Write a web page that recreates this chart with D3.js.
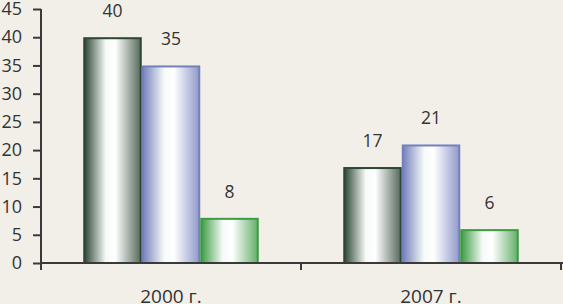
<!DOCTYPE html>
<html>
<head>
<meta charset="utf-8">
<script src="https://cdn.jsdelivr.net/npm/d3@7"></script>
<style>
  body { margin: 0; background: #f2efe9; }
  svg { display: block; }
  text { font-family: "Open Sans", sans-serif; fill: #333; }
</style>
</head>
<body>
<div id="chart"></div>
<script>
var categories = ["2000 г.", "2007 г."];
var seriesNames = ["s1", "s2", "s3"];
var values = [
    [40, 35, 8],
    [17, 21, 6]
];
var yTicks = [0, 5, 10, 15, 20, 25, 30, 35, 40, 45];
var colors = ["#2d4533", "#7480bc", "#3d9c43"];

var width = 563, height = 304;
var margin = { top: 9, right: 2, bottom: 41, left: 41 };

var svg = d3.select("#chart")
    .append("svg")
    .attr("width", width)
    .attr("height", height);

svg.append("rect")
    .attr("width", width).attr("height", height)
    .attr("fill", "#f2efe9");

// gradients for the cylinder-ish look
var defs = svg.append("defs");
colors.forEach(function (c, i) {
    var g = defs.append("linearGradient")
        .attr("id", "grad" + i)
        .attr("x1", "0%").attr("x2", "100%")
        .attr("y1", "0%").attr("y2", "0%");
    g.append("stop").attr("offset", "0%").attr("stop-color", c);
    g.append("stop").attr("offset", "38%").attr("stop-color", "#f6faf8");
    g.append("stop").attr("offset", "55%").attr("stop-color", "#ffffff");
    g.append("stop").attr("offset", "100%").attr("stop-color", d3.interpolateRgb(c, "#ffffff")(0.2));
});

var x0 = d3.scaleBand()
    .domain(categories)
    .range([margin.left, width - margin.right])
    .paddingInner(0.325)
    .paddingOuter(0.1625);

var x1 = d3.scaleBand()
    .domain(seriesNames)
    .range([0, x0.bandwidth()]);

var y = d3.scaleLinear()
    .domain([0, 45])
    .range([height - margin.bottom, margin.top]);

// y axis
var yAxis = svg.append("g")
    .attr("transform", "translate(" + margin.left + ",0)")
    .call(d3.axisLeft(y).tickValues(yTicks).tickSize(8).tickPadding(11).tickSizeOuter(0));
yAxis.select(".domain").remove();
yAxis.selectAll("line").attr("stroke", "#3a3a3a").attr("stroke-width", 2);
yAxis.selectAll("text").style("font-size", "18px").attr("fill", "#333");
svg.append("line")
    .attr("x1", margin.left).attr("x2", margin.left)
    .attr("y1", margin.top).attr("y2", y(0) + 7)
    .attr("stroke", "#3a3a3a").attr("stroke-width", 2);

// bars
var groups = svg.selectAll(".grp")
    .data(values)
    .enter()
    .append("g")
    .attr("transform", function (d, i) { return "translate(" + x0(categories[i]) + ",0)"; });

groups.selectAll("rect")
    .data(function (d) { return d; })
    .enter()
    .append("rect")
    .attr("x", function (d, i) { return x1(seriesNames[i]) + 1; })
    .attr("y", function (d) { return y(d) + 1; })
    .attr("width", x1.bandwidth() - 2)
    .attr("height", function (d) { return y(0) - y(d) - 1; })
    .attr("fill", function (d, i) { return "url(#grad" + i + ")"; })
    .attr("stroke", function (d, i) { return colors[i]; })
    .attr("stroke-width", 2);

groups.selectAll(".lbl")
    .data(function (d) { return d; })
    .enter()
    .append("text")
    .attr("class", "lbl")
    .attr("x", function (d, i) { return x1(seriesNames[i]) + x1.bandwidth() / 2; })
    .attr("y", function (d) { return y(d) - 20; })
    .attr("text-anchor", "middle")
    .style("font-size", "17.5px")
    .text(function (d) { return d; });

// x axis
var xTickPos = [x0.step() + margin.left, x0.range()[1]];
svg.append("line")
    .attr("x1", margin.left).attr("x2", width)
    .attr("y1", y(0)).attr("y2", y(0))
    .attr("stroke", "#3a3a3a").attr("stroke-width", 2);
svg.selectAll(".xtick")
    .data(xTickPos)
    .enter()
    .append("line")
    .attr("x1", function (d) { return d; }).attr("x2", function (d) { return d; })
    .attr("y1", y(0)).attr("y2", y(0) + 7)
    .attr("stroke", "#3a3a3a").attr("stroke-width", 2);

svg.selectAll(".xlbl")
    .data(categories)
    .enter()
    .append("text")
    .attr("x", function (d) { return x0(d) + x0.bandwidth() / 2; })
    .attr("y", 303)
    .attr("text-anchor", "middle")
    .style("font-size", "19px")
    .text(function (d) { return d; });
</script>
</body>
</html>
